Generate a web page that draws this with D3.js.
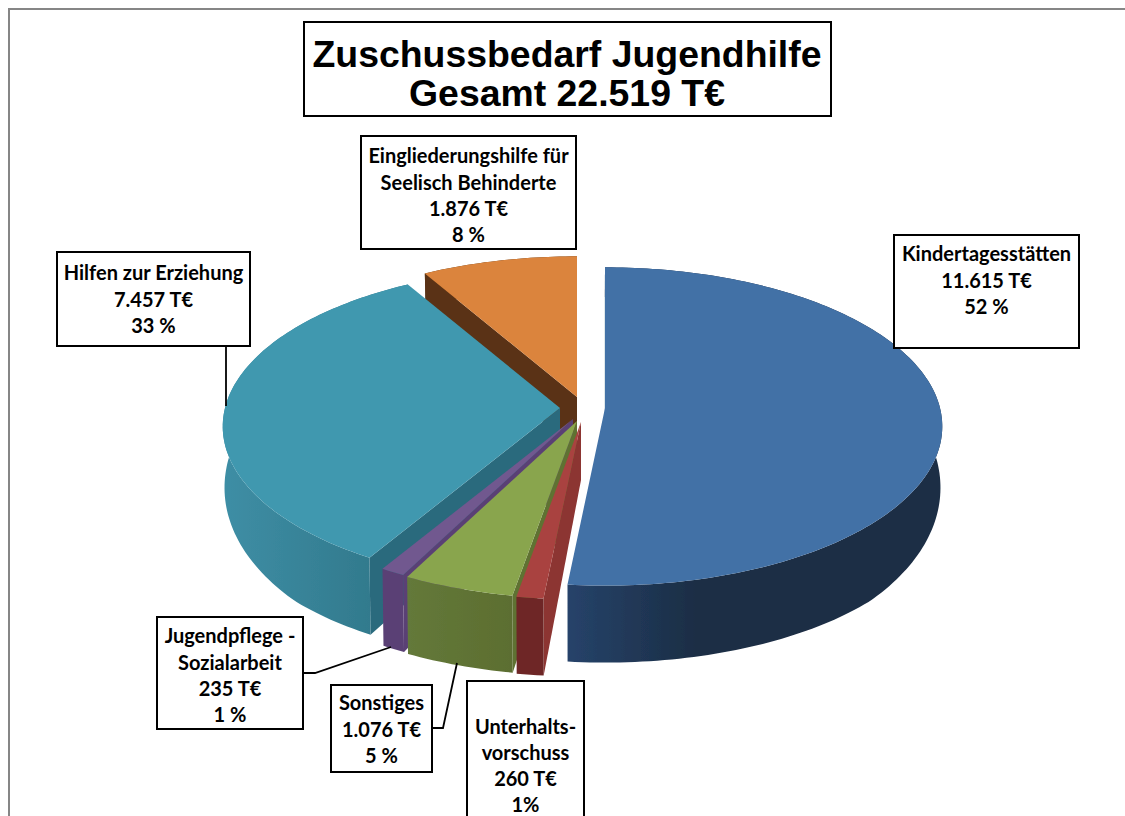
<!DOCTYPE html>
<html><head><meta charset="utf-8">
<style>html,body{margin:0;padding:0;background:#fff;overflow:hidden}svg{display:block}
.lb{font-family:Lato,"Open Sans",sans-serif;font-weight:700;font-size:20px;fill:#000;text-anchor:middle;dominant-baseline:central}
.tt{font-family:"Liberation Sans",Arial,sans-serif;font-weight:700;font-size:37.4px;fill:#000;text-anchor:middle}
</style>
<script src="https://cdn.jsdelivr.net/npm/d3@7/dist/d3.min.js"></script>
</head><body>
<script>
// data, clockwise from 12 o'clock
const categories = ["Kindertagesstätten","Unterhaltsvorschuss","Sonstiges","Jugendpflege - Sozialarbeit","Hilfen zur Erziehung","Eingliederungshilfe für Seelisch Behinderte"];
const values = [11615,260,1076,235,7457,1876];
const titleLines = ["Zuschussbedarf Jugendhilfe","Gesamt 22.519 T€"];
const labelLines = [
 ["Kindertagesstätten","11.615 T€","52 %"],
 ["Unterhalts-","vorschuss","260 T€","1%"],
 ["Sonstiges","1.076 T€","5 %"],
 ["Jugendpflege -","Sozialarbeit","235 T€","1 %"],
 ["Hilfen zur Erziehung","7.457 T€","33 %"],
 ["Eingliederungshilfe für","Seelisch Behinderte","1.876 T€","8 %"]
];
const topColors  = ["#4371a6","#a9433f","#89a54e","#71588f","#4198af","#db843d"];
const rimLeft    = ["#26436a","#6e2826","#64793a","#5a4175","#3e8ea5","#5a3315"];
const rimRight   = ["#1b2d44","#6e2826","#5c6e30","#5a4175","#2f7587","#5a3315"];
const rimStop    = [0.35,1,1,1,1,1];
const sideColors = ["#24405e","#8c3432","#5f7232","#5a4175","#2a6a7d","#5a3315"];

// layout
const W=1125,H=816;
const apex=[[605,408],[581,422],[577,421],[573,419],[560,408],[577,397]];
const RX=335,RY=157,P=0.116,SHRINK=0.995,CX=580;
const paintOrder=[5,4,0,3,2,1];
const boxes=[
 {x:894,y:235,w:185,h:113,ys:[253,280,306]},
 {x:467,y:681,w:117,h:150,ys:[726,752,778,804]},
 {x:331,y:685,w:101,h:87,ys:[702,729,755]},
 {x:157,y:617,w:146,h:112,ys:[635,662,688,714]},
 {x:57,y:252,w:193,h:94,ys:[272,299,325]},
 {x:361,y:136,w:215,h:113,ys:[155,182,208,234]}
];
const leaders=[
 [[226,346],[226,406]],
 [[303,673],[315,673],[391,647]],
 [[432,728],[443,728],[457,663]]
];

const svg=d3.select("body").append("svg").attr("width",W).attr("height",H);
const defs=svg.append("defs");
defs.append("filter").attr("id","soft").attr("x","-5%").attr("y","-5%").attr("width","110%").attr("height","110%")
  .append("feGaussianBlur").attr("stdDeviation",0.6);

const line=d3.line();
svg.append("path").attr("d",line([[9,H],[9,9],[W,9]])).attr("fill","none").attr("stroke","#868686").attr("stroke-width",2);

const arcs=d3.pie().sort(null).value(d=>d)(values);
function proj(i,a,r){
  const u=Math.sin(a)*r,v=-Math.cos(a)*r,s=1/(1-P*v);
  return [apex[i][0]+RX*u*s, apex[i][1]+RY*v*s];
}
const depth=(a,r)=>Math.min(77,58+28*(-Math.cos(a)*r));
function down(p,a,r){return [CX+(p[0]-CX)*SHRINK,p[1]+depth(a,r)];}
function samples(d){
  const n=Math.max(4,Math.ceil((d.endAngle-d.startAngle)/0.02));
  return d3.range(n+1).map(k=>d.startAngle+(d.endAngle-d.startAngle)*k/n);
}
const g=svg.append("g").attr("filter","url(#soft)");
paintOrder.forEach(i=>{
  const d=arcs[i],as=samples(d);
  const gid="rim"+i;
  const lg=defs.append("linearGradient").attr("id",gid).attr("gradientUnits","userSpaceOnUse");
  const xs=as.map(a=>proj(i,a,1)[0]);
  lg.attr("x1",d3.min(xs)).attr("x2",d3.max(xs)).attr("y1",0).attr("y2",0);
  lg.append("stop").attr("offset",0).attr("stop-color",rimLeft[i]);
  lg.append("stop").attr("offset",rimStop[i]).attr("stop-color",rimRight[i]);
  const a0=d.startAngle, c=proj(i,a0,1), o=proj(i,a0,0);
  g.append("path").attr("d",line([o,c,down(c,a0,1),down(o,a0,0)])+"Z").attr("fill",sideColors[i]);
  const topEdge=as.map(a=>proj(i,a,1));
  const botEdge=as.map(a=>down(proj(i,a,1),a,1)).reverse();
  g.append("path").attr("d",line(topEdge.concat(botEdge))+"Z").attr("fill","url(#"+gid+")");
  g.append("path").attr("d",line([o].concat(topEdge))+"Z").attr("fill",topColors[i]);
});

leaders.forEach(l=>svg.append("path").attr("d",line(l)).attr("fill","none").attr("stroke","#000").attr("stroke-width",1.8));

labelLines.forEach((ls,i)=>{
  const b=boxes[i];
  svg.append("rect").attr("x",b.x).attr("y",b.y).attr("width",b.w).attr("height",b.h).attr("fill","#fff").attr("stroke","#000").attr("stroke-width",2);
  ls.forEach((t,k)=>svg.append("text").attr("class","lb").attr("x",b.x+b.w/2).attr("y",b.ys[k]).text(t));
});

svg.append("rect").attr("x",304).attr("y",22).attr("width",527).attr("height",94).attr("fill","#fff").attr("stroke","#000").attr("stroke-width",2);
titleLines.forEach((t,k)=>svg.append("text").attr("class","tt").attr("x",567).attr("y",[67,106][k]).text(t));
</script>
</body></html>
